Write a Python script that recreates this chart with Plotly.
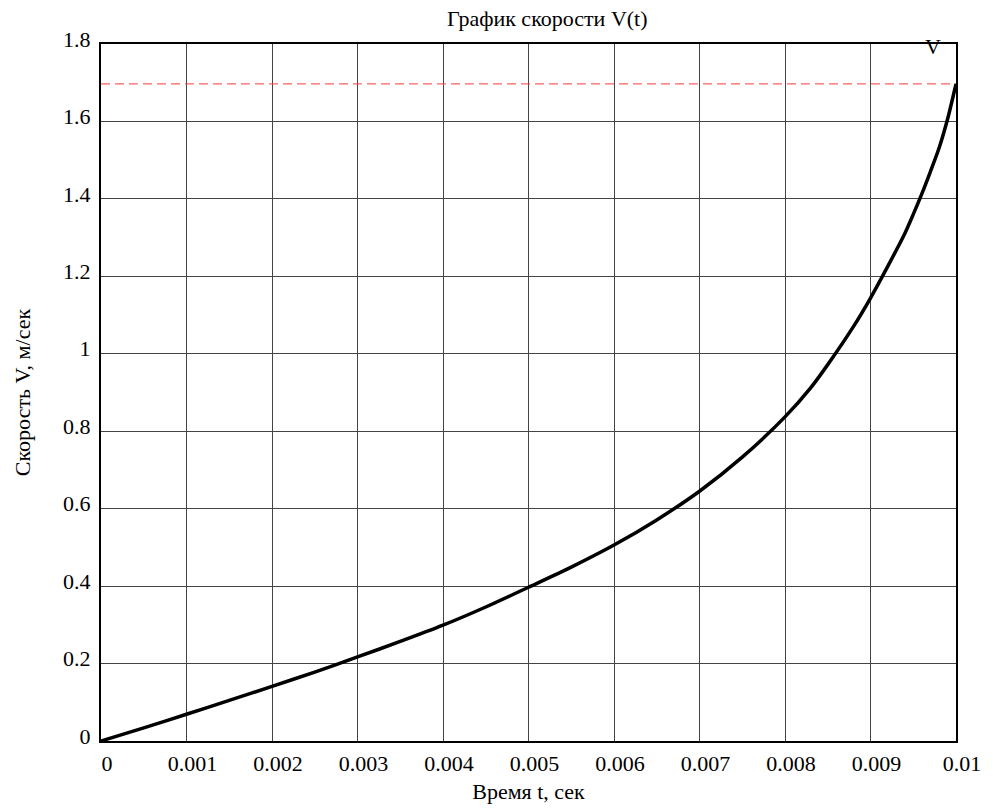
import plotly.graph_objects as go

t_vals = [0, 0.0005, 0.001, 0.0015, 0.002, 0.0025, 0.003, 0.0035, 0.004, 0.0045,
          0.005, 0.0055, 0.006, 0.0065, 0.007, 0.0075, 0.008, 0.0083,
          0.0085, 0.0088, 0.009, 0.0092, 0.0094, 0.0095, 0.0096, 0.0097,
          0.0098, 0.0099, 0.01]
v_vals = [0, 0.034, 0.069, 0.105, 0.141, 0.178, 0.217, 0.257, 0.299, 0.346,
          0.397, 0.449, 0.506, 0.571, 0.645, 0.733, 0.837, 0.912,
          0.972, 1.07, 1.144, 1.225, 1.31, 1.36, 1.413, 1.47,
          1.53, 1.605, 1.697]
v_max = 1.697
x_ticks = [0, 0.001, 0.002, 0.003, 0.004, 0.005, 0.006, 0.007, 0.008, 0.009, 0.01]
x_tick_text = ["0", "0.001", "0.002", "0.003", "0.004", "0.005", "0.006", "0.007", "0.008", "0.009", "0.01"]
y_ticks = [0, 0.2, 0.4, 0.6, 0.8, 1, 1.2, 1.4, 1.6, 1.8]
y_tick_text = ["0", "0.2", "0.4", "0.6", "0.8", "1", "1.2", "1.4", "1.6", "1.8"]

FONT = "Liberation Serif, Times New Roman, serif"

fig = go.Figure()
fig.add_trace(go.Scatter(x=[0, 0.01], y=[v_max, v_max], mode="lines",
                         line=dict(color="#ff3b3b", width=1, dash="9px,5px"),
                         showlegend=False, hoverinfo="skip"))
fig.add_trace(go.Scatter(x=t_vals, y=v_vals, mode="lines", name="V",
                         line=dict(color="black", width=3.5, shape="spline", smoothing=0.8),
                         showlegend=False))

fig.add_annotation(x=0.00973, y=1.8, xref="x", yref="y", text="V", showarrow=False,
                   yanchor="middle", xanchor="center", yshift=-2,
                   font=dict(family=FONT, size=22, color="black"))

fig.update_layout(
    width=993, height=812,
    margin=dict(l=101, r=27, t=44, b=65),
    paper_bgcolor="white", plot_bgcolor="white",
    font=dict(family=FONT, size=22, color="black"),
    title=dict(text="График скорости V(t)", x=0.522, xanchor="center",
               xref="paper", y=1, yref="container", yanchor="top", pad=dict(t=11),
               font=dict(family=FONT, size=22, color="black")),
)
fig.update_xaxes(range=[0, 0.01], tickvals=x_ticks, ticktext=x_tick_text,
                 showgrid=True, gridcolor="#444", gridwidth=1,
                 showline=True, linecolor="black", linewidth=2, mirror=True,
                 zeroline=False, ticks="", ticklen=0, ticklabelshift=6,
                 ticklabelstandoff=2,
                 title=dict(text="Время t, сек", standoff=8,
                            font=dict(family=FONT, size=22)))
fig.update_yaxes(range=[0, 1.8], tickvals=y_ticks, ticktext=y_tick_text,
                 showgrid=True, gridcolor="#444", gridwidth=1,
                 showline=True, linecolor="black", linewidth=2, mirror=True,
                 zeroline=False, ticks="", ticklen=0, ticklabelshift=-5,
                 ticklabelstandoff=4,
                 title=dict(text="Скорость V, м/сек", standoff=26,
                            font=dict(family=FONT, size=22)))

fig.write_html("out.html")
